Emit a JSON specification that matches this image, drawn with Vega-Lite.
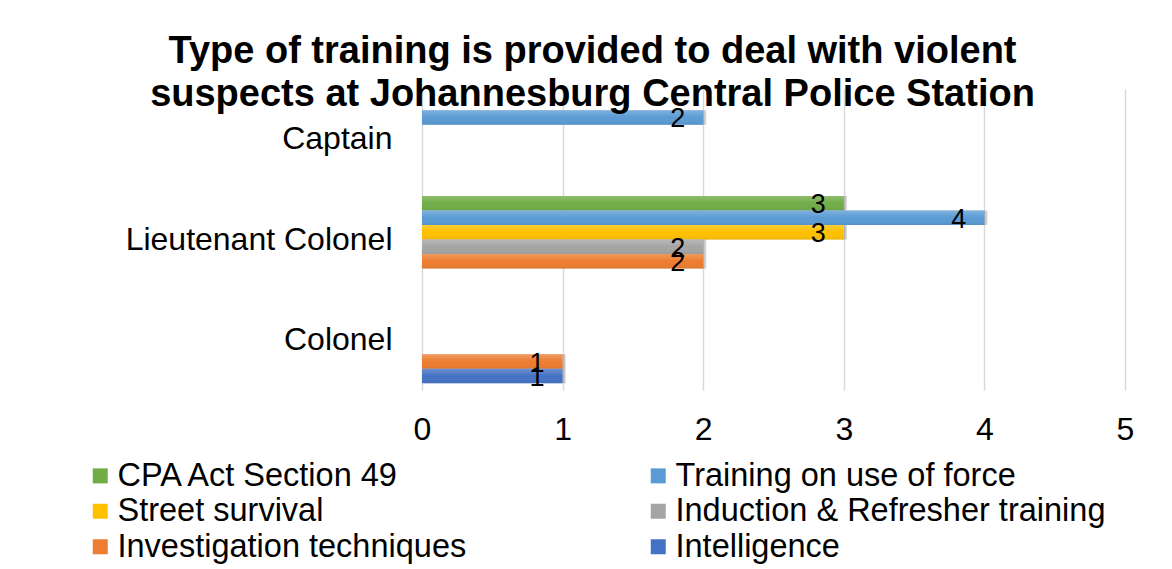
{
  "$schema": "https://vega.github.io/schema/vega-lite/v6.json",
  "width": 703,
  "height": 301,
  "autosize": "none",
  "padding": {"left": 422, "top": 89, "right": 47, "bottom": 179},
  "background": "white",
  "config": {"font": "Liberation Sans", "view": {"stroke": null}},
  "title": {
    "text": ["Type of training is provided to deal with violent", "suspects at Johannesburg Central Police Station"],
    "fontSize": 38,
    "fontWeight": "bold",
    "font": "Liberation Sans",
    "color": "black",
    "anchor": "middle",
    "dx": -181,
    "offset": -25,
    "lineHeight": 43
  },
  "data": {
    "values": [
      {"rank": "Captain", "training": "Training on use of force", "count": 2},
      {"rank": "Lieutenant Colonel", "training": "CPA Act Section 49", "count": 3},
      {"rank": "Lieutenant Colonel", "training": "Training on use of force", "count": 4},
      {"rank": "Lieutenant Colonel", "training": "Street survival", "count": 3},
      {"rank": "Lieutenant Colonel", "training": "Induction  & Refresher training", "count": 2},
      {"rank": "Lieutenant Colonel", "training": "Investigation techniques", "count": 2},
      {"rank": "Colonel", "training": "Investigation techniques", "count": 1},
      {"rank": "Colonel", "training": "Intelligence", "count": 1}
    ]
  },
  "encoding": {
    "y": {
      "field": "rank",
      "type": "nominal",
      "sort": ["Captain", "Lieutenant Colonel", "Colonel"],
      "scale": {"paddingInner": 0.134, "paddingOuter": 0.067},
      "title": null,
      "axis": {"domain": false, "ticks": false, "labelFontSize": 32, "labelColor": "black", "labelPadding": 30, "labelLimit": 0}
    },
    "yOffset": {
      "field": "training",
      "type": "nominal",
      "scale": {"domain": ["CPA Act Section 49", "Training on use of force", "Street survival", "Induction  & Refresher training", "Investigation techniques", "Intelligence"], "paddingInner": 0, "paddingOuter": 0}
    },
    "x": {
      "field": "count",
      "type": "quantitative",
      "scale": {"domain": [0, 5]},
      "title": null,
      "axis": {"domain": false, "ticks": false, "values": [0, 1, 2, 3, 4, 5], "labelOverlap": false, "labelFlush": false, "labelFontSize": 32, "labelColor": "black", "labelPadding": 24, "gridColor": "#D9D9D9", "gridWidth": 1.5}
    }
  },
  "layer": [
    {
      "mark": {"type": "bar", "color": "#000000", "opacity": 0.18, "xOffset": 3, "yOffset": 3},
      "encoding": {}
    },
    {
      "mark": {"type": "bar"},
      "encoding": {
        "color": {
          "field": "training",
          "type": "nominal",
          "scale": {
            "domain": ["CPA Act Section 49", "Training on use of force", "Street survival", "Induction  & Refresher training", "Investigation techniques", "Intelligence"],
            "range": ["#70AD47", "#5B9BD5", "#FFC000", "#A5A5A5", "#ED7D31", "#4472C4"]
          },
          "legend": {
            "title": null,
            "orient": "none",
            "direction": "horizontal",
            "legendX": -338,
            "legendY": 370.5,
            "columns": 2,
            "columnPadding": 175,
            "rowPadding": 2.5,
            "labelFontSize": 32.5,
            "labelColor": "black",
            "labelLimit": 0,
            "labelOffset": 1,
            "symbolType": "square",
            "symbolSize": 225,
            "symbolStrokeWidth": 0
          }
        }
      }
    },
    {
      "mark": {
        "type": "bar",
        "color": {
          "gradient": "linear",
          "x1": 0, "y1": 0, "x2": 0, "y2": 1,
          "stops": [
            {"offset": 0, "color": "rgba(255,255,255,0.22)"},
            {"offset": 0.5, "color": "rgba(255,255,255,0.0)"},
            {"offset": 1, "color": "rgba(0,0,0,0.06)"}
          ]
        }
      },
      "encoding": {}
    },
    {
      "mark": {"type": "text", "align": "right", "baseline": "middle", "dx": -18, "dy": 2, "fontSize": 27, "color": "black"},
      "encoding": {"text": {"field": "count", "type": "quantitative"}}
    }
  ]
}
